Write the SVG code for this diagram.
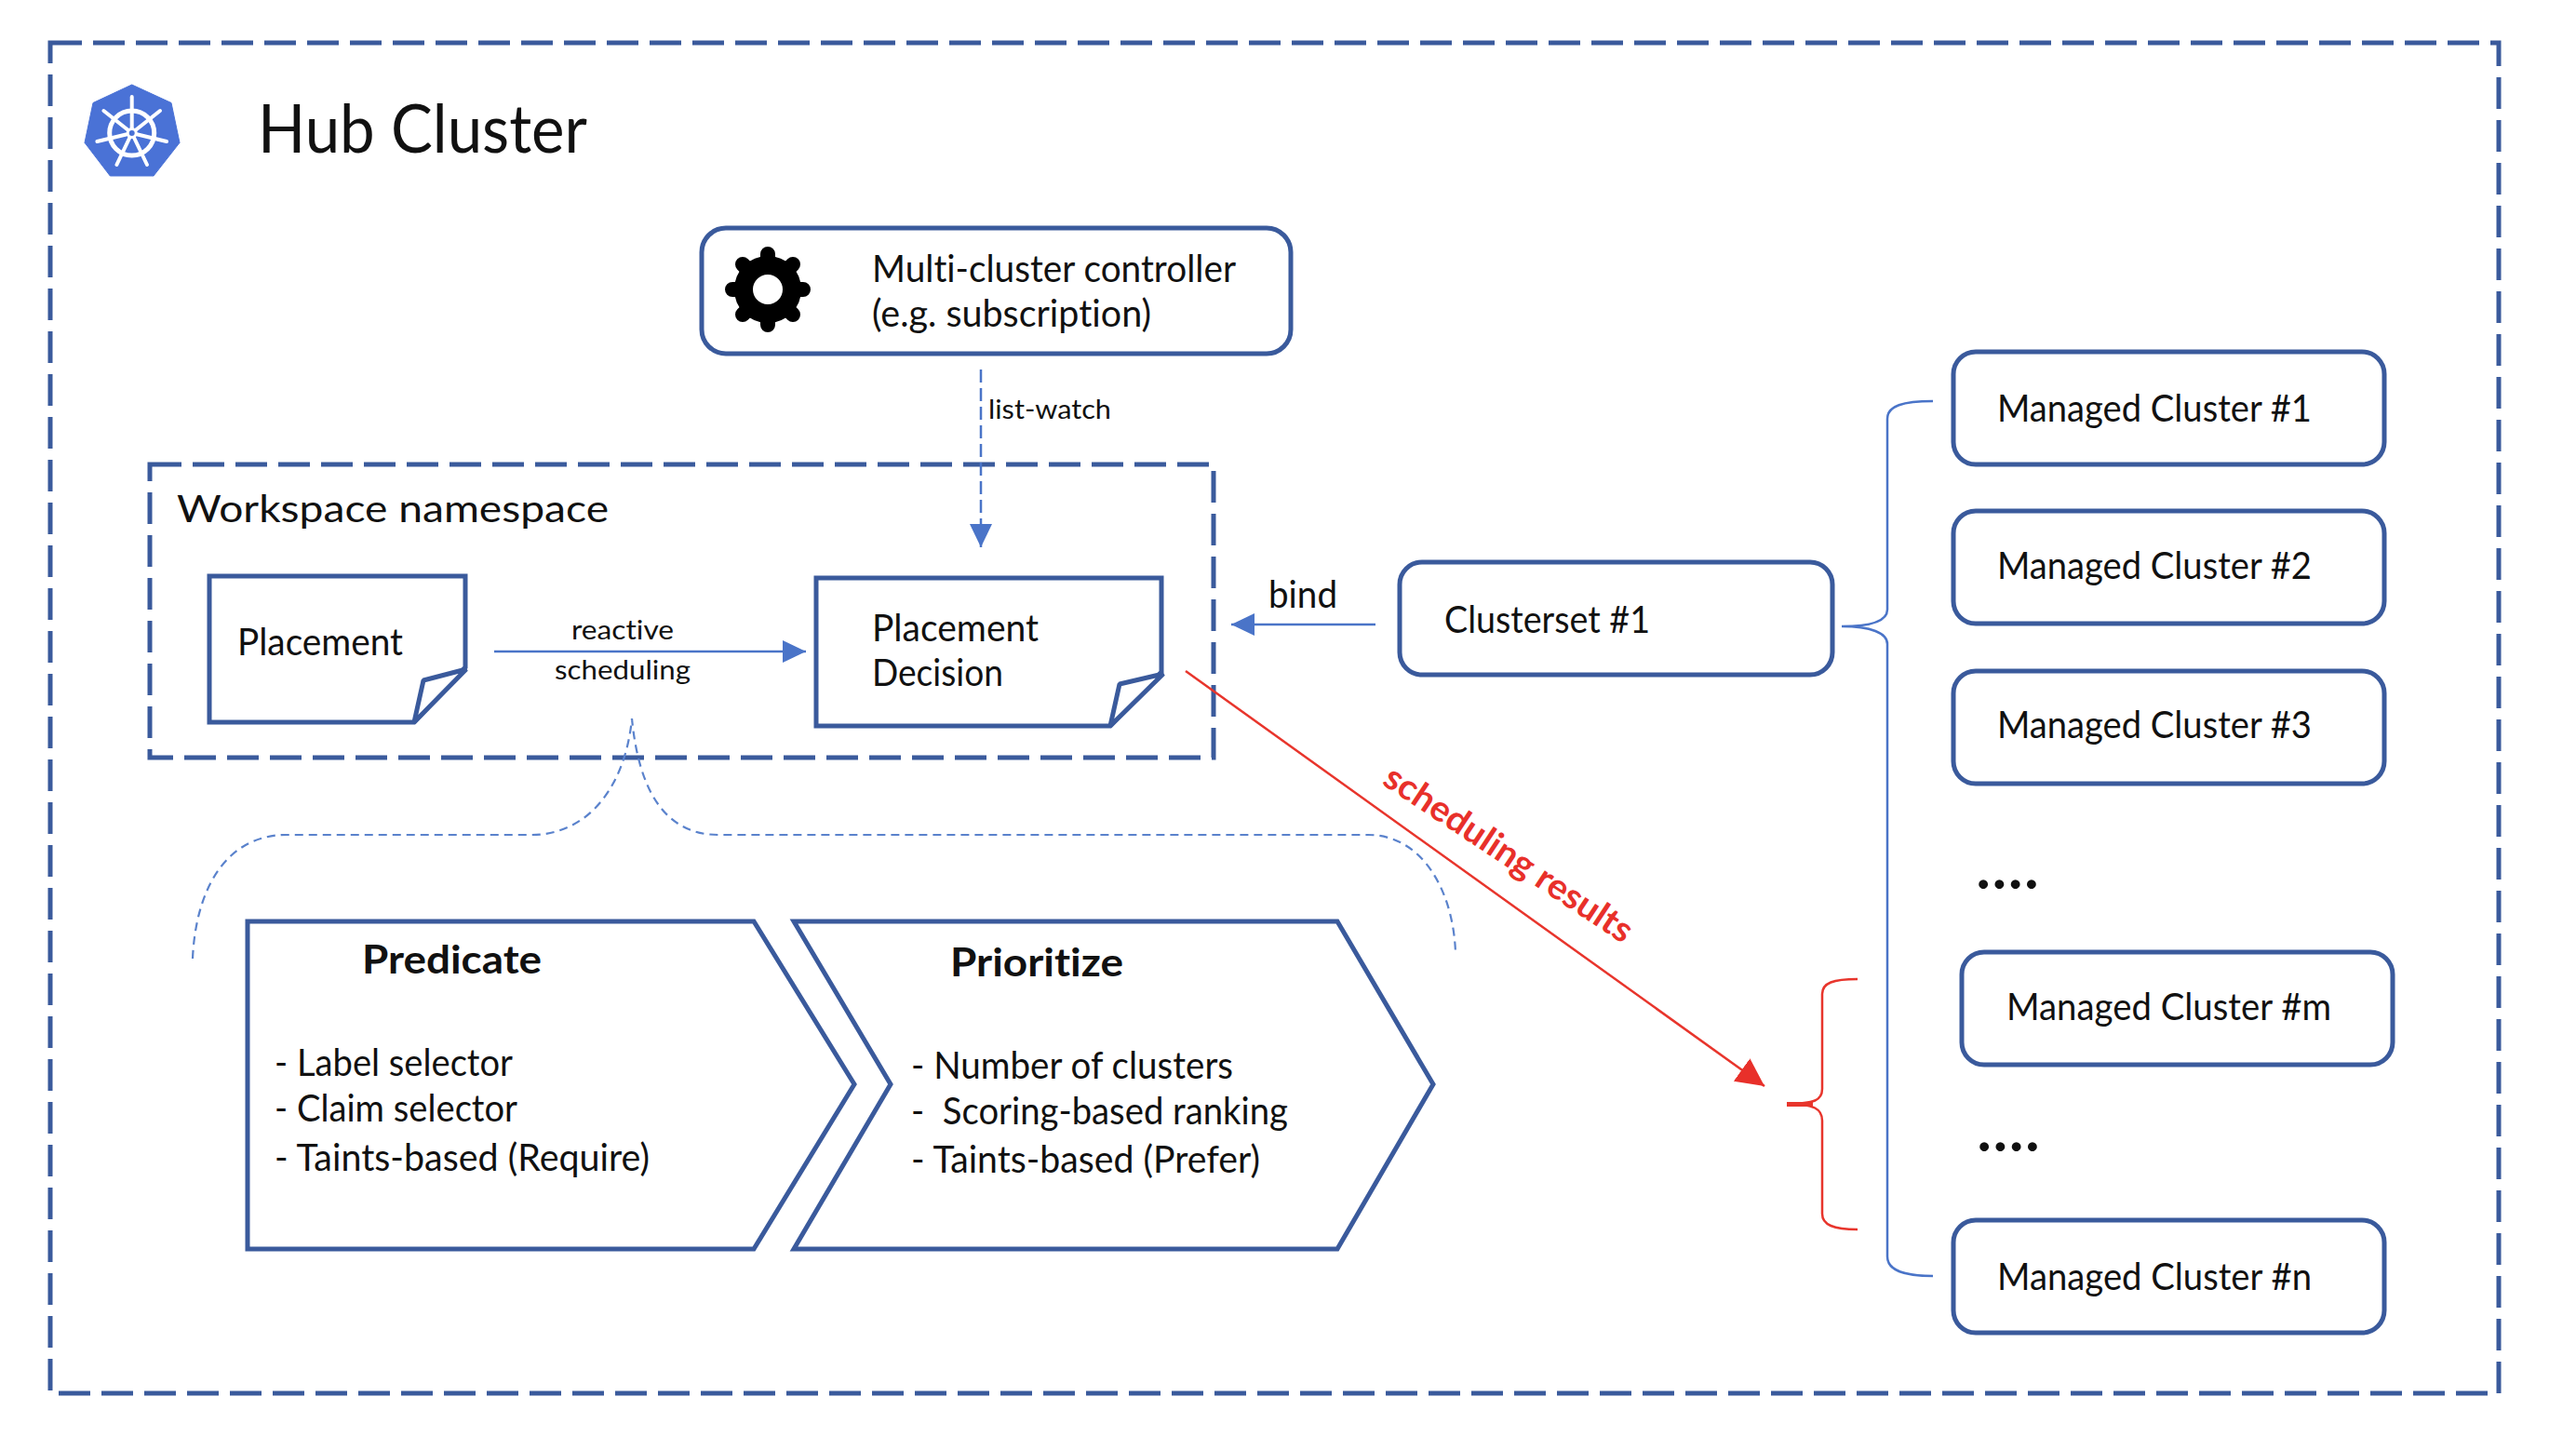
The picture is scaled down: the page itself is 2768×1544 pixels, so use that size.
<svg xmlns="http://www.w3.org/2000/svg" width="2768" height="1544" viewBox="0 0 2768 1544">
<style>
text{font-family:Lato,Carlito,"Open Sans","Liberation Sans",sans-serif;fill:#111;font-size:40px;font-variant-ligatures:none}
.frame{fill:none;stroke:#3a5a9c;stroke-width:5;stroke-dasharray:34 12}
.box{fill:#fff;stroke:#3a5a9c;stroke-width:5}
.fold{fill:#fff;stroke:#3a5a9c;stroke-width:5;stroke-linejoin:bevel}
.blue{fill:none;stroke:#4a74c8;stroke-width:2.5}
.blued{fill:none;stroke:#5a82cc;stroke-width:2.2;stroke-dasharray:9 6}
.red{fill:none;stroke:#e8352c;stroke-width:2.5}
.small{font-size:29px}
.bold{font-weight:700;font-size:42px}
.dots{font-weight:900;font-size:60px}
</style>
<defs>
<marker id="ab" markerUnits="userSpaceOnUse" markerWidth="26" markerHeight="26" refX="25" refY="12" orient="auto"><path d="M0 0L25 12L0 24Z" fill="#4a74c8"/></marker>
<marker id="ar" markerUnits="userSpaceOnUse" markerWidth="32" markerHeight="32" refX="30" refY="15" orient="auto"><path d="M0 0L30 15L0 30Z" fill="#e8302a"/></marker>
<rect id="mc" width="463" height="121" rx="24" class="box"/>
</defs>
<rect id="hub-frame" x="54" y="46" width="2631" height="1451" class="frame"/>
<g id="hub-title">
<path d="M141.7 91L184 110.5L193 153.3L165 189L118.3 189L91 153.3L100 110.5Z" fill="#4a72d6" stroke="#4a72d6" stroke-width="1" stroke-linejoin="round"/>
<g fill="none" stroke="#fff" stroke-linecap="round" stroke-width="4">
<circle cx="141.7" cy="143" r="24" stroke-width="5"/>
<path d="M141.7 143V104M141.7 143L172 119M141.7 143L179 152M141.7 143L158 177M141.7 143L125.4 177M141.7 143L104.4 152M141.7 143L111.4 119"/>
</g>
<circle cx="141.7" cy="143" r="6" fill="#fff"/>
<circle cx="141.7" cy="143" r="3" fill="#4a72d6"/>
<text x="277" y="164" textLength="354" lengthAdjust="spacingAndGlyphs" style="font-size:71px">Hub Cluster</text>
</g>
<g id="controller">
<rect x="754" y="245" width="633" height="135" rx="26" class="box"/>
<circle cx="825" cy="311" r="26" fill="none" stroke="#000" stroke-width="20"/>
<path d="M825 279V273M825 343V349M793 311H787M857 311H863M802.4 288.4L798 284M847.6 288.4L852 284M802.4 333.6L798 338M847.6 333.6L852 338" stroke="#000" stroke-width="16" stroke-linecap="round" fill="none"/>
<text x="937" y="303" textLength="391" lengthAdjust="spacingAndGlyphs">Multi-cluster controller</text>
<text x="937" y="351" textLength="300" lengthAdjust="spacingAndGlyphs">(e.g. subscription)</text>
</g>
<g id="workspace">
<rect x="161" y="499" width="1143" height="315" class="frame"/>
<text x="190" y="561" textLength="464" lengthAdjust="spacingAndGlyphs">Workspace namespace</text>
</g>
<g id="placement">
<path d="M225 619H500V717L445 776H225Z" class="box"/>
<path d="M445 776L455 731L501 719Z" class="fold"/>
<text x="255" y="704" textLength="178" lengthAdjust="spacingAndGlyphs">Placement</text>
</g>
<g id="placement-decision">
<path d="M877 621H1248V722L1193 780H877Z" class="box"/>
<path d="M1193 780L1203 735L1250 724Z" class="fold"/>
<text x="937" y="689" textLength="179" lengthAdjust="spacingAndGlyphs">Placement</text>
<text x="937" y="737" textLength="141" lengthAdjust="spacingAndGlyphs">Decision</text>
</g>
<g id="clusterset">
<rect x="1504" y="604" width="465" height="121" rx="24" class="box"/>
<text x="1552" y="680" textLength="221" lengthAdjust="spacingAndGlyphs">Clusterset #1</text>
</g>
<g id="mc1"><use href="#mc" x="2099" y="378"/><text x="2146" y="453" textLength="338" lengthAdjust="spacingAndGlyphs">Managed Cluster #1</text></g>
<g id="mc2"><use href="#mc" x="2099" y="549"/><text x="2146" y="622" textLength="338" lengthAdjust="spacingAndGlyphs">Managed Cluster #2</text></g>
<g id="mc3"><use href="#mc" x="2099" y="721"/><text x="2146" y="793" textLength="338" lengthAdjust="spacingAndGlyphs">Managed Cluster #3</text></g>
<g id="mcm"><use href="#mc" x="2108" y="1023"/><text x="2156" y="1096" textLength="349" lengthAdjust="spacingAndGlyphs">Managed Cluster #m</text></g>
<g id="mcn"><use href="#mc" x="2099" y="1311"/><text x="2146" y="1386" textLength="338" lengthAdjust="spacingAndGlyphs">Managed Cluster #n</text></g>
<text x="2124" y="955" class="dots" textLength="66" lengthAdjust="spacing">....</text>
<text x="2125" y="1237" class="dots" textLength="66" lengthAdjust="spacing">....</text>
<g id="predicate">
<path d="M266 990H810L918 1165L810 1342H266Z" class="box"/>
<text x="389" y="1046" class="bold" textLength="193" lengthAdjust="spacingAndGlyphs">Predicate</text>
<text x="295" y="1156" textLength="256" lengthAdjust="spacingAndGlyphs">- Label selector</text>
<text x="295" y="1205" textLength="261" lengthAdjust="spacingAndGlyphs">- Claim selector</text>
<text x="295" y="1258" textLength="403" lengthAdjust="spacingAndGlyphs">- Taints-based (Require)</text>
</g>
<g id="prioritize">
<path d="M853 990H1437L1540 1165L1437 1342H853L957 1165Z" class="box"/>
<text x="1021" y="1049" class="bold" textLength="186" lengthAdjust="spacingAndGlyphs">Prioritize</text>
<text x="979" y="1159" textLength="346" lengthAdjust="spacingAndGlyphs">- Number of clusters</text>
<text x="979" y="1208" xml:space="preserve" textLength="405" lengthAdjust="spacingAndGlyphs">-  Scoring-based ranking</text>
<text x="979" y="1260" textLength="375" lengthAdjust="spacingAndGlyphs">- Taints-based (Prefer)</text>
</g>
<g id="connectors">
<path d="M1054 397V588" class="blue" stroke-dasharray="14 6" marker-end="url(#ab)"/>
<path d="M531 700H866" class="blue" marker-end="url(#ab)"/>
<path d="M1478 671H1323" class="blue" marker-end="url(#ab)"/>
<path d="M1274 721L1896 1167" class="red" marker-end="url(#ar)"/>
<path d="M207 1030C210 960 240 897 308 897H571C632 897 672 845 679 772C686 845 712 897 772 897H1470C1530 897 1562 960 1564 1024" class="blued"/>
<path d="M2077 431C2045 431 2028 436 2028 450V655C2028 668 2010 673 1979 673C2010 673 2028 680 2028 692V1350C2028 1365 2045 1371 2077 1371" class="blue"/>
<path d="M1996 1052C1970 1052 1958 1056 1958 1068V1170C1958 1182 1950 1186 1920 1186C1950 1186 1958 1192 1958 1204V1304C1958 1316 1970 1321 1996 1321" class="red"/>
<path d="M1920 1186.5H1948" stroke="#e8352c" stroke-width="5" fill="none"/>
</g>
<g id="labels">
<text x="1062" y="450" class="small" textLength="132" lengthAdjust="spacingAndGlyphs">list-watch</text>
<text x="614" y="687" class="small" textLength="110" lengthAdjust="spacingAndGlyphs">reactive</text>
<text x="596" y="730" class="small" textLength="146" lengthAdjust="spacingAndGlyphs">scheduling</text>
<text x="1363" y="653" textLength="74" lengthAdjust="spacingAndGlyphs">bind</text>
<text transform="translate(1484 842) rotate(33.5)" style="font-weight:700;font-size:38px;fill:#e8302a" textLength="312" lengthAdjust="spacingAndGlyphs">scheduling results</text>
</g>
</svg>
